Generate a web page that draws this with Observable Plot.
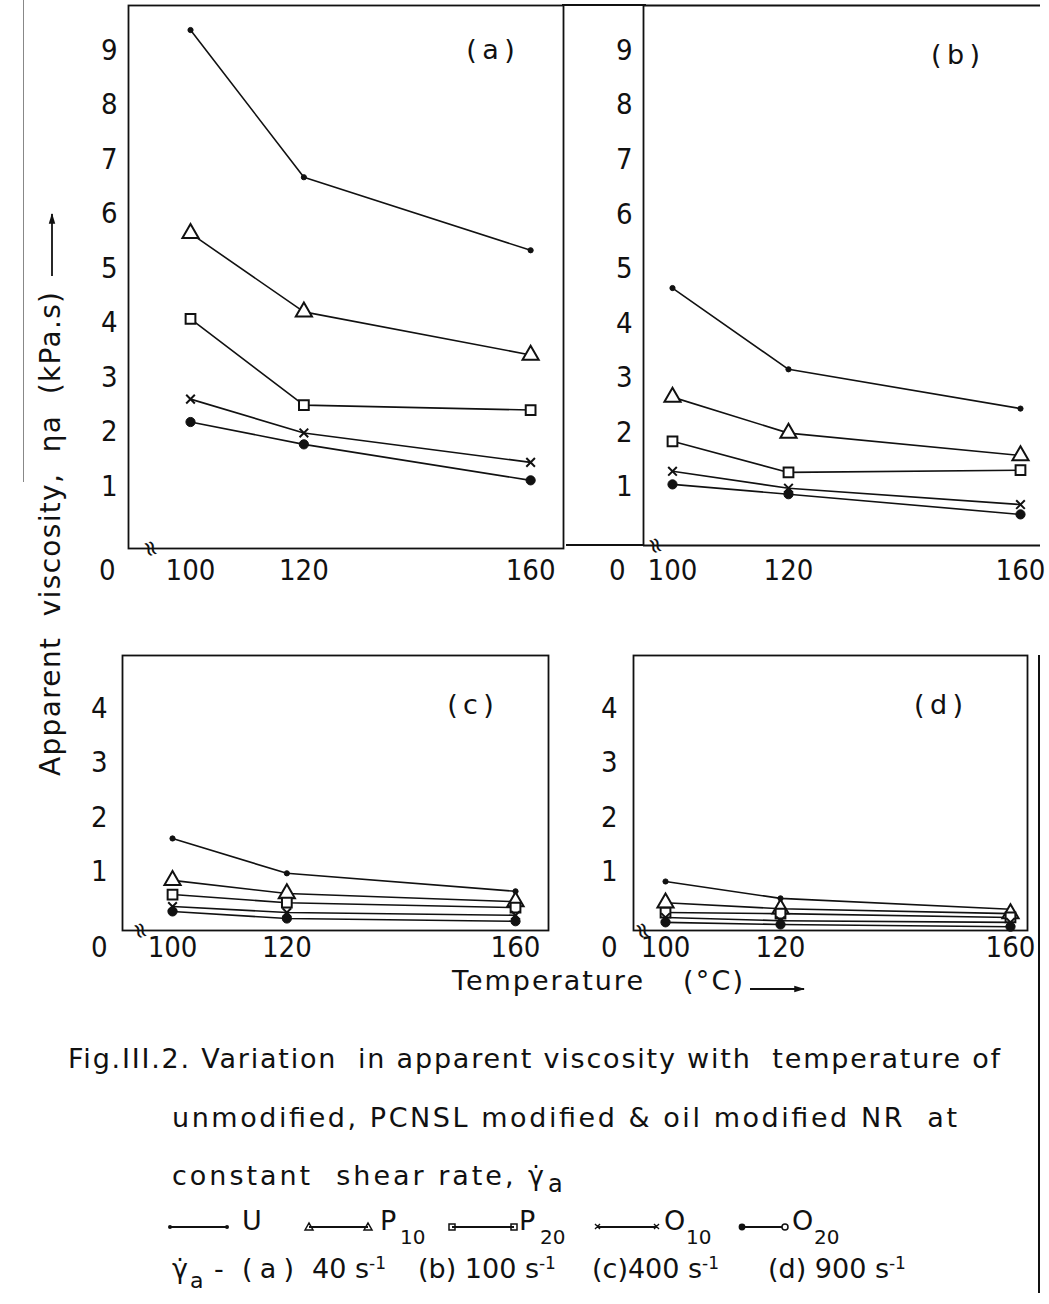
<!DOCTYPE html>
<html><head><meta charset="utf-8">
<script src="https://cdn.jsdelivr.net/npm/d3@7"></script>
<script src="https://cdn.jsdelivr.net/npm/@observablehq/plot@0.6"></script>
<style>
body{margin:0;background:#fff;}
#page{position:relative;width:1049px;height:1304px;background:#fff;overflow:hidden;color:#111;}
.abs{position:absolute;}
.hline{position:absolute;height:2px;background:#111;}
.vline{position:absolute;width:2px;background:#111;}
svg text{white-space:pre;}
</style></head><body><div id="page"></div>
<script>
// ---- data ----
const temps = [100, 120, 160];               // temperature, °C
const seriesNames = ["U", "P10", "P20", "O10", "O20"];
const panelNames = ["a", "b", "c", "d"];
const panelLabels = ["(a)", "(b)", "(c)", "(d)"];
const topYTicks = [1, 2, 3, 4, 5, 6, 7, 8, 9];
const bottomYTicks = [1, 2, 3, 4];

// (a) shear rate 40 s-1 — apparent viscosity, kPa.s
const a_U   = [9.45, 6.75, 5.41];
const a_P10 = [5.72, 4.28, 3.49];
const a_P20 = [4.15, 2.57, 2.48];
const a_O10 = [2.68, 2.06, 1.52];
const a_O20 = [2.26, 1.85, 1.19];
// (b) 100 s-1
const b_U   = [4.72, 3.23, 2.51];
const b_P10 = [2.72, 2.06, 1.65];
const b_P20 = [1.91, 1.34, 1.38];
const b_O10 = [1.36, 1.05, 0.75];
const b_O20 = [1.12, 0.94, 0.57];
// (c) 400 s-1
const c_U   = [1.69, 1.05, 0.72];
const c_P10 = [0.92, 0.68, 0.53];
const c_P20 = [0.66, 0.51, 0.42];
const c_O10 = [0.44, 0.33, 0.28];
const c_O20 = [0.35, 0.22, 0.17];
// (d) 900 s-1
const d_U   = [0.90, 0.59, 0.39];
const d_P10 = [0.51, 0.40, 0.31];
const d_P20 = [0.33, 0.31, 0.24];
const d_O10 = [0.24, 0.18, 0.15];
const d_O20 = [0.15, 0.11, 0.07];

const values = {
  a: {U: a_U, P10: a_P10, P20: a_P20, O10: a_O10, O20: a_O20},
  b: {U: b_U, P10: b_P10, P20: b_P20, O10: b_O10, O20: b_O20},
  c: {U: c_U, P10: c_P10, P20: c_P20, O10: c_O10, O20: c_O20},
  d: {U: d_U, P10: d_P10, P20: d_P20, O10: d_O10, O20: d_O20}
};

// ---- layout ----
const INK = "#111";
const tickFont = '"Liberation Sans Narrow","DejaVu Sans Condensed","Liberation Sans",sans-serif';
const textFont = '"DejaVu Sans","Liberation Sans",sans-serif';

const layout = {
  a: {left: 0,   top: 0,   width: 565, height: 600, mL: 128, mR: 2,  mT: 5,  mB: 52, xDom: [89.06, 165.8], yDom: [-0.06, 9.9], ticks: topYTicks, labDx: -73, labDy: 45, tickDx: -11, zeroDx: -13, xDy: 22, brk: 93.0, full: true},
  b: {left: 565, top: 0,   width: 484, height: 600, mL: 78,  mR: 9,  mT: 5,  mB: 55, xDom: [95.0, 163.45], yDom: [0, 9.9],     ticks: topYTicks, labDx: -85, labDy: 50, tickDx: -11, zeroDx: -18, xDy: 25, brk: 97.1, full: false},
  c: {left: 0,   top: 600, width: 565, height: 400, mL: 122, mR: 17, mT: 55, mB: 70, xDom: [91.25, 165.77], yDom: [0, 5.05],   ticks: bottomYTicks, labDx: -78, labDy: 50, tickDx: -15, zeroDx: -15, xDy: 17, brk: 94.4, full: true},
  d: {left: 565, top: 600, width: 484, height: 400, mL: 68,  mR: 22, mT: 55, mB: 70, xDom: [94.43, 162.96], yDom: [0, 5.05],   ticks: bottomYTicks, labDx: -89, labDy: 50, tickDx: -16, zeroDx: -16, xDy: 17, brk: 96.0, full: true}
};

const symbolStyle = {
  U:   {symbol: "circle",   r: 2.6, fill: INK, stroke: INK, strokeWidth: 1},
  P10: {symbol: "triangle", r: 6,   fill: "white", stroke: INK, strokeWidth: 2},
  P20: {symbol: "square",   r: 5.5, fill: "white", stroke: INK, strokeWidth: 2},
  O10: {symbol: "times",    r: 4,   fill: "none", stroke: INK, strokeWidth: 2},
  O20: {symbol: "circle",   r: 4.6, fill: INK, stroke: INK, strokeWidth: 1}
};

const page = document.getElementById("page");

panelNames.forEach((p, pi) => {
  const L = layout[p];
  const rows = seriesNames.flatMap(s => temps.map((T, i) => ({series: s, T, v: values[p][s][i]})));
  const frameMarks = L.full
    ? [Plot.frame({stroke: INK, strokeWidth: 1.8})]
    : [Plot.ruleX([L.xDom[0]], {stroke: INK, strokeWidth: 1.8}),
       Plot.ruleY([L.yDom[0]], {stroke: INK, strokeWidth: 1.8}),
       Plot.ruleY([L.yDom[1]], {stroke: INK, strokeWidth: 1.8})];
  const chart = Plot.plot({
    width: L.width, height: L.height,
    marginLeft: L.mL, marginRight: L.mR, marginTop: L.mT, marginBottom: L.mB,
    x: {domain: L.xDom, axis: null},
    y: {domain: L.yDom, axis: null},
    style: {fontFamily: tickFont, fontSize: "29px", color: INK, background: "transparent", overflow: "visible"},
    marks: [
      ...frameMarks,
      Plot.line(rows, {x: "T", y: "v", z: "series", stroke: INK, strokeWidth: 1.6}),
      ...seriesNames.map(s => Plot.dot(rows.filter(d => d.series === s), {x: "T", y: "v", ...symbolStyle[s]})),
      Plot.text(L.ticks, {y: d => d, frameAnchor: "left", dx: L.tickDx, dy: -4, text: d => String(d), textAnchor: "end", lineAnchor: "middle", fontSize: 29, fill: INK}),
      Plot.text(temps, {x: d => d, frameAnchor: "bottom", dy: L.xDy, text: d => String(d), lineAnchor: "middle", fontSize: 29, fill: INK}),
      Plot.text(["0"], {frameAnchor: "bottom-left", dx: L.zeroDx, dy: L.xDy, text: d => d, textAnchor: "end", lineAnchor: "middle", fontSize: 29, fill: INK}),
      Plot.text([L.brk], {x: d => d, frameAnchor: "bottom", text: () => "≈", rotate: 70, fontSize: 24, lineAnchor: "middle", fill: INK}),
      Plot.text([panelLabels[pi]], {frameAnchor: "top-right", dx: L.labDx, dy: L.labDy, text: d => d.replace("(", "(\u2009").replace(")", "\u2009)"), textAnchor: "middle", lineAnchor: "middle", fontSize: 27, fontFamily: textFont, fill: INK})
    ]
  });
  const wrap = document.createElement("div");
  wrap.className = "abs";
  wrap.style.left = L.left + "px";
  wrap.style.top = L.top + "px";
  wrap.appendChild(chart);
  page.appendChild(wrap);
});

// decorative page lines of the scanned figure
function line(cls, l, t, len, color, w) {
  const d = document.createElement("div");
  d.className = cls;
  d.style.left = l + "px"; d.style.top = t + "px";
  if (color) d.style.background = color;
  if (w) d.style.width = w + "px";
  if (cls === "hline") d.style.width = len + "px"; else d.style.height = len + "px";
  page.appendChild(d);
}
line("hline", 566, 544, 78);     // (b) axis extension to the left
line("hline", 562, 4, 84);       // top rule between (a) and (b)
line("vline", 1038, 655, 638);   // page right border
line("vline", 23, 0, 482, "#888", 1); // faint scan page edge at left

// axis titles + caption
const svgNS = "http://www.w3.org/2000/svg";
const over = document.createElement("div");
over.className = "abs";
over.style.left = "0px"; over.style.top = "0px";
over.innerHTML = `
<svg xmlns="${svgNS}" width="1049" height="1304" style="position:absolute;left:0;top:0;overflow:visible" font-family='${textFont}' fill="${INK}">
  <defs><marker id="ah" viewBox="0 0 10 10" refX="9" refY="5" markerWidth="6" markerHeight="6" orient="auto-start-reverse"><path d="M0,2 L10,5 L0,8 Z" fill="${INK}"/></marker></defs>
  <text transform="translate(60,776) rotate(-90)" font-size="28" textLength="484" lengthAdjust="spacing">Apparent  viscosity,  ηa  (kPa.s)</text>
  <line x1="52" y1="276" x2="52" y2="214" stroke="${INK}" stroke-width="1.8" marker-end="url(#ah)"/>
  <text x="452" y="990" font-size="27" textLength="191" lengthAdjust="spacing">Temperature</text>
  <text x="683" y="990" font-size="27" textLength="60" lengthAdjust="spacing">(°C)</text>
  <line x1="750" y1="989" x2="804" y2="989" stroke="${INK}" stroke-width="1.8" marker-end="url(#ah)"/>

  <text x="68" y="1068" font-size="27" textLength="932" lengthAdjust="spacing">Fig.III.2. Variation  in apparent viscosity with  temperature of</text>
  <text x="172" y="1127" font-size="27" textLength="785" lengthAdjust="spacing">unmodified, PCNSL modified &amp; oil modified NR  at</text>
  <text x="172" y="1185" font-size="27" textLength="372" lengthAdjust="spacing">constant  shear rate, γ̇</text>
  <text x="548" y="1192" font-size="24">a</text>

  <g stroke="${INK}" stroke-width="1.8">
    <line x1="170" y1="1227" x2="227" y2="1227"/>
    <line x1="309" y1="1227" x2="368" y2="1227"/>
    <line x1="452" y1="1227" x2="514" y2="1227"/>
    <line x1="598" y1="1227" x2="657" y2="1227"/>
    <line x1="742" y1="1227" x2="785" y2="1227"/>
  </g>
  <circle cx="170" cy="1227" r="2" /><circle cx="227" cy="1227" r="2" />
  <path d="M305,1230 L309,1223 L313,1230 Z M364,1230 L368,1223 L372,1230 Z" fill="none" stroke="${INK}" stroke-width="1.5"/>
  <path d="M449,1224 h6 v6 h-6 Z M511,1224 h6 v6 h-6 Z" fill="none" stroke="${INK}" stroke-width="1.5"/>
  <path d="M595,1224 l5,5 M600,1224 l-5,5 M654,1224 l5,5 M659,1224 l-5,5" stroke="${INK}" stroke-width="1.4"/>
  <circle cx="742" cy="1227" r="3.4" /><circle cx="785" cy="1227" r="3" fill="white" stroke="${INK}" stroke-width="1.5"/>
  <text x="242" y="1230" font-size="27">U</text>
  <text x="380" y="1230" font-size="27">P</text><text x="400" y="1244" font-size="20">10</text>
  <text x="519" y="1230" font-size="27">P</text><text x="540" y="1244" font-size="20">20</text>
  <text x="664" y="1230" font-size="27">O</text><text x="686" y="1244" font-size="20">10</text>
  <text x="792" y="1230" font-size="27">O</text><text x="814" y="1244" font-size="20">20</text>

  <text x="172" y="1278" font-size="27">γ̇</text><text x="190" y="1288" font-size="22">a</text>
  <text x="214" y="1278" font-size="27">-</text>
  <text x="242" y="1278" font-size="27" textLength="52" lengthAdjust="spacing">(a)</text>
  <text x="312" y="1278" font-size="27">40 s<tspan dy="-9" font-size="17">-1</tspan></text>
  <text x="418" y="1278" font-size="27">(b) 100 s<tspan dy="-9" font-size="17">-1</tspan></text>
  <text x="592" y="1278" font-size="27">(c)400 s<tspan dy="-9" font-size="17">-1</tspan></text>
  <text x="768" y="1278" font-size="27">(d) 900 s<tspan dy="-9" font-size="17">-1</tspan></text>
</svg>`;
page.appendChild(over);
</script></body></html>
